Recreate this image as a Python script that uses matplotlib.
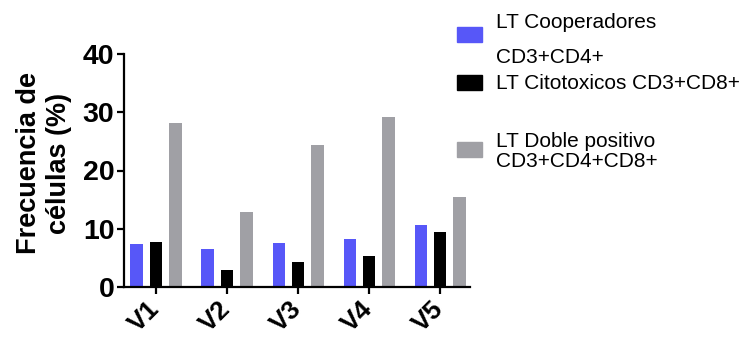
import matplotlib
matplotlib.use("Agg")
import matplotlib.pyplot as plt
from matplotlib.patches import Rectangle
import numpy as np

categories = ["V1", "V2", "V3", "V4", "V5"]
cooperadores = [7.3, 6.5, 7.5, 8.2, 10.6]
citotoxicos = [7.8, 3.0, 4.3, 5.3, 9.4]
doble_positivo = [28.2, 12.9, 24.4, 29.2, 15.5]
yticks = [0, 10, 20, 30, 40]

legend_lines = [
    ("LT Cooperadores", 28.3), ("CD3+CD4+", 63.3),
    ("LT Citotoxicos CD3+CD8+", 89.3),
    ("LT Doble positivo", 146.7), ("CD3+CD4+CD8+", 166.7),
]

plt.rcParams['font.family'] = ['Liberation Sans', 'DejaVu Sans']

W, H = 753, 340
fig = plt.figure(figsize=(W / 100, H / 100), dpi=100)
ax = fig.add_axes([124 / W, 53 / H, (470 - 124) / W, (287 - 54) / H])

blue = "#5757F8"
black = "#000000"
gray = "#A0A0A5"

x = np.arange(len(categories))
bw = 0.175
off = 0.272
ax.bar(x - off, cooperadores, bw, color=blue)
ax.bar(x, citotoxicos, bw, color=black)
ax.bar(x + off, doble_positivo, bw, color=gray)

ax.set_xlim(-0.45, 4.42)
ax.set_ylim(0, 40)
ax.set_yticks(yticks)
ax.set_yticklabels([str(v) for v in yticks], fontsize=20.5, fontweight='bold')
ax.set_xticks(x)
ax.set_xticklabels(categories, fontsize=19, fontweight='bold', rotation=45,
                   ha='right', va='center', rotation_mode='anchor')
for s in ['top', 'right']:
    ax.spines[s].set_visible(False)
for s in ['left', 'bottom']:
    ax.spines[s].set_linewidth(1.6)
ax.tick_params(axis='both', width=1.6, length=5, pad=2)
ax.tick_params(axis='x', pad=8)

fig.text(44 / W, 1 - 163 / H, "Frecuencia de\ncélulas (%)", rotation=90,
         ha='center', va='center', fontsize=19.5, fontweight='bold',
         multialignment='center', linespacing=1.15)

# legend
patches = [(blue, 27), (black, 75), (gray, 142)]
for col, ytop in patches:
    fig.patches.append(Rectangle((457 / W, 1 - (ytop + 15) / H), 25 / W, 15 / H,
                                 transform=fig.transFigure, color=col))
for txt, base in legend_lines:
    fig.text(496 / W, 1 - base / H, txt, ha='left', va='baseline', fontsize=15)

fig.savefig("out.png", dpi=100)
